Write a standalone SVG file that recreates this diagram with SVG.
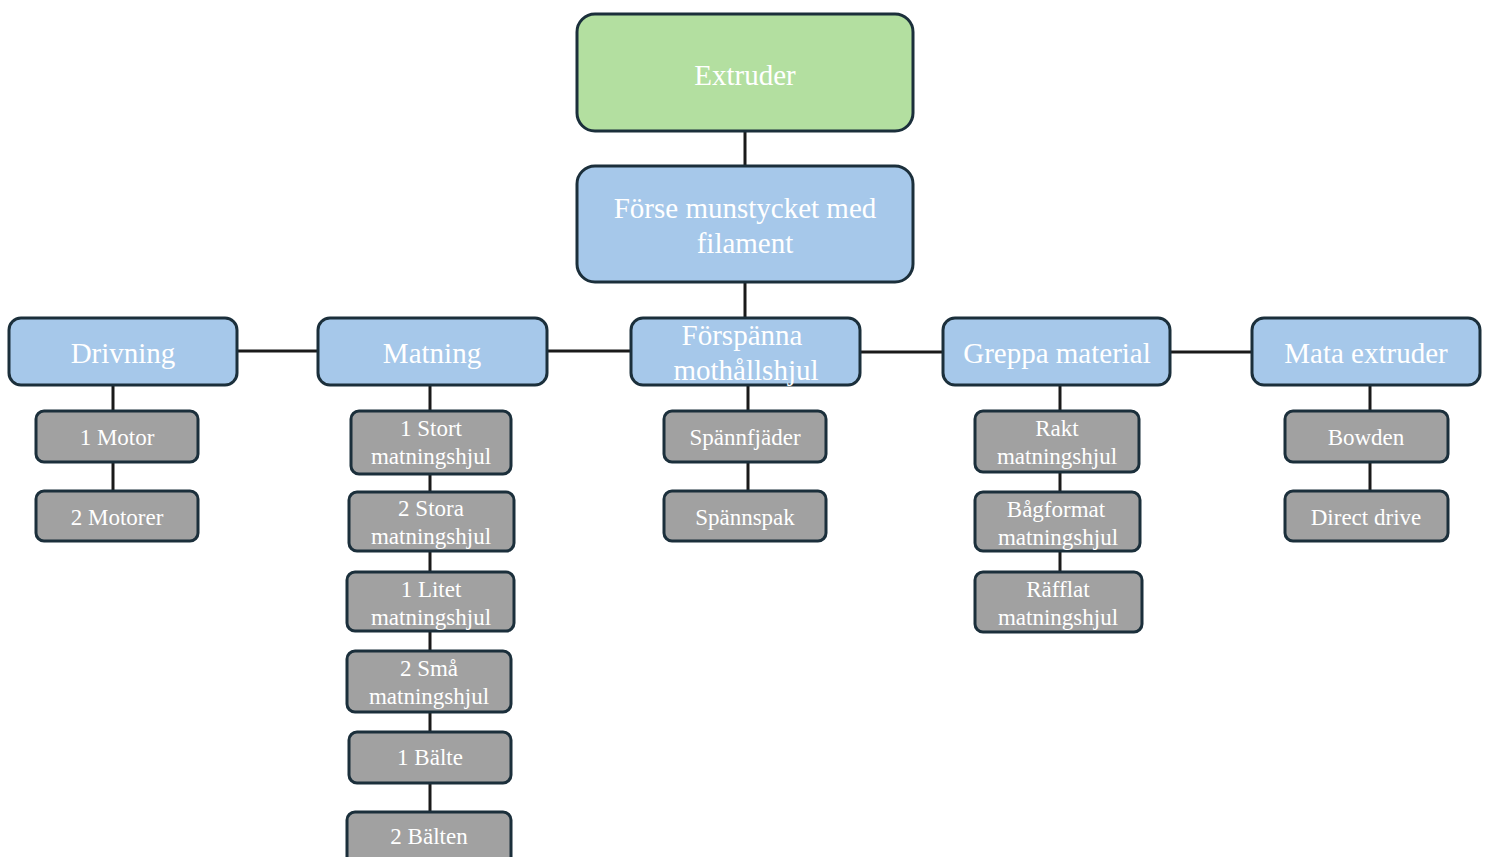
<svg xmlns="http://www.w3.org/2000/svg" width="1488" height="857" viewBox="0 0 1488 857">
<style>
.g{fill:#b3dfa0;stroke:#1b2f3b;stroke-width:3}
.b{fill:#a6c8ea;stroke:#1b2f3b;stroke-width:3}
.s{fill:#a1a1a1;stroke:#1b2f3b;stroke-width:3}
.c{stroke:#1a1a1a;stroke-width:3;fill:none}
text{font-family:'Liberation Serif','Times New Roman','DejaVu Serif',serif;fill:#ffffff;text-anchor:middle}
.t1{font-size:29px}
.t2{font-size:23px}
</style>
<rect width="1488" height="857" fill="#ffffff"/>
<g id="connectors">
<path class="c" d="M745 131V166M745 282V318M237 351H318M547 351H631M860 352H943M1170 352H1252"/>
<path class="c" d="M113 385V411M113 462V491"/>
<path class="c" d="M430 385V857"/>
<path class="c" d="M748 385V411M748 462V491"/>
<path class="c" d="M1060 385V572"/>
<path class="c" d="M1370 385V411M1370 462V491"/>
</g>
<g id="extruder"><rect class="g" x="577" y="14" width="336" height="117" rx="18"/><text class="t1" x="745" y="85">Extruder</text></g>
<g id="forse"><rect class="b" x="577" y="166" width="336" height="116" rx="18"/><text class="t1" x="745" y="218">Förse munstycket med</text><text class="t1" x="745" y="253">filament</text></g>
<g id="drivning"><rect class="b" x="9" y="318" width="228" height="67" rx="12"/><text class="t1" x="123" y="363">Drivning</text></g>
<g id="matning"><rect class="b" x="318" y="318" width="229" height="67" rx="12"/><text class="t1" x="432" y="363">Matning</text></g>
<g id="forspanna"><rect class="b" x="631" y="318" width="229" height="67" rx="12"/><text class="t1" x="742" y="345">Förspänna</text><text class="t1" x="746" y="380">mothållshjul</text></g>
<g id="greppa"><rect class="b" x="943" y="318" width="227" height="67" rx="12"/><text class="t1" x="1057" y="363">Greppa material</text></g>
<g id="mata"><rect class="b" x="1252" y="318" width="228" height="67" rx="12"/><text class="t1" x="1366" y="363">Mata extruder</text></g>
<g id="motor1"><rect class="s" x="36" y="411" width="162" height="51" rx="8"/><text class="t2" x="117" y="445">1 Motor</text></g>
<g id="motor2"><rect class="s" x="36" y="491" width="162" height="50" rx="8"/><text class="t2" x="117" y="525">2 Motorer</text></g>
<g id="stort1"><rect class="s" x="351" y="411" width="160" height="63" rx="8"/><text class="t2" x="431" y="436">1 Stort</text><text class="t2" x="431" y="464">matningshjul</text></g>
<g id="stora2"><rect class="s" x="349" y="492" width="165" height="59" rx="8"/><text class="t2" x="431" y="516">2 Stora</text><text class="t2" x="431" y="544">matningshjul</text></g>
<g id="litet1"><rect class="s" x="347" y="572" width="167" height="59" rx="8"/><text class="t2" x="431" y="597">1 Litet</text><text class="t2" x="431" y="625">matningshjul</text></g>
<g id="sma2"><rect class="s" x="347" y="651" width="164" height="61" rx="8"/><text class="t2" x="429" y="676">2 Små</text><text class="t2" x="429" y="704">matningshjul</text></g>
<g id="balte1"><rect class="s" x="349" y="732" width="162" height="51" rx="8"/><text class="t2" x="430" y="765">1 Bälte</text></g>
<g id="balten2"><rect class="s" x="347" y="812" width="164" height="60" rx="8"/><text class="t2" x="429" y="844">2 Bälten</text></g>
<g id="spannfjader"><rect class="s" x="664" y="411" width="162" height="51" rx="8"/><text class="t2" x="745" y="445">Spännfjäder</text></g>
<g id="spannspak"><rect class="s" x="664" y="491" width="162" height="50" rx="8"/><text class="t2" x="745" y="525">Spännspak</text></g>
<g id="rakt"><rect class="s" x="975" y="411" width="164" height="61" rx="8"/><text class="t2" x="1057" y="436">Rakt</text><text class="t2" x="1057" y="464">matningshjul</text></g>
<g id="bagformat"><rect class="s" x="975" y="492" width="165" height="59" rx="8"/><text class="t2" x="1056" y="517">Bågformat</text><text class="t2" x="1058" y="545">matningshjul</text></g>
<g id="rafflat"><rect class="s" x="975" y="572" width="167" height="60" rx="8"/><text class="t2" x="1058" y="597">Räfflat</text><text class="t2" x="1058" y="625">matningshjul</text></g>
<g id="bowden"><rect class="s" x="1285" y="411" width="163" height="51" rx="8"/><text class="t2" x="1366" y="445">Bowden</text></g>
<g id="direct"><rect class="s" x="1285" y="491" width="163" height="50" rx="8"/><text class="t2" x="1366" y="525">Direct drive</text></g>
</svg>
